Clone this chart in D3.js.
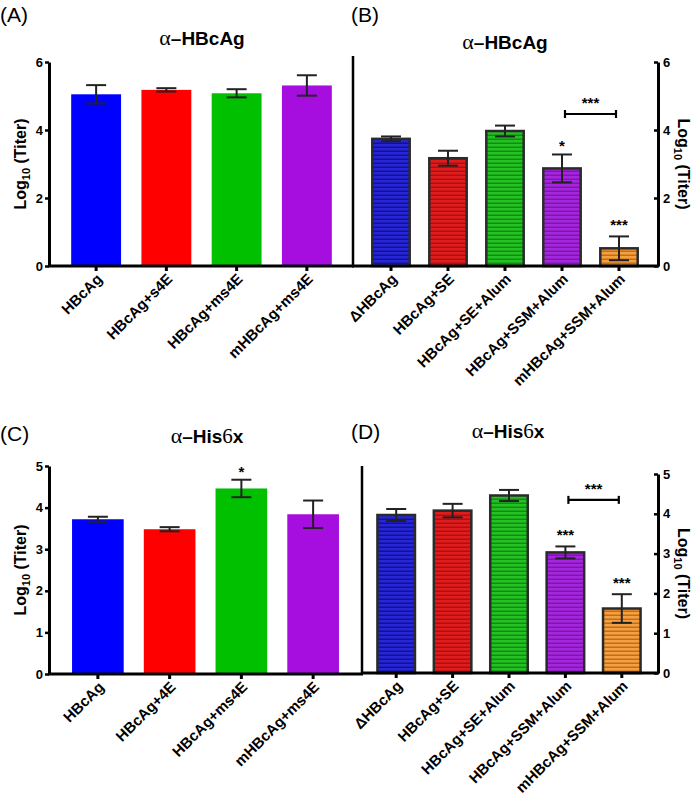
<!DOCTYPE html>
<html><head><meta charset="utf-8">
<script src="https://cdn.jsdelivr.net/npm/d3@7"></script>
<style>body{margin:0;background:#fff}svg{display:block}</style>
</head><body>
<svg id="c" width="692" height="796"></svg>
<script>
// ---------- data ----------
const catsA = ["HBcAg","HBcAg+s4E","HBcAg+ms4E","mHBcAg+ms4E"];
const valsA = [5.05, 5.18, 5.08, 5.31];
const errA  = [0.27, 0.05, 0.12, 0.30];
const sigA  = ["", "", "", ""];

const catsB = ["ΔHBcAg","HBcAg+SE","HBcAg+SE+Alum","HBcAg+SSM+Alum","mHBcAg+SSM+Alum"];
const valsB = [3.74, 3.17, 3.97, 2.87, 0.52];
const errB  = [0.07, 0.22, 0.16, 0.41, 0.35];
const sigB  = ["", "", "", "*", "***"];
const bracketB = [3, 4, 4.47];

const catsC = ["HBcAg","HBcAg+4E","HBcAg+ms4E","mHBcAg+ms4E"];
const valsC = [3.72, 3.48, 4.46, 3.84];
const errC  = [0.06, 0.05, 0.21, 0.33];
const sigC  = ["", "", "*", ""];

const catsD = ["ΔHBcAg","HBcAg+SE","HBcAg+SE+Alum","HBcAg+SSM+Alum","mHBcAg+SSM+Alum"];
const valsD = [3.97, 4.08, 4.46, 3.03, 1.62];
const errD  = [0.15, 0.17, 0.14, 0.15, 0.36];
const sigD  = ["", "", "", "***", "***"];
const bracketD = [3, 4, 4.35];

const ticksAB = [0, 2, 4, 6];
const ticksCD = [0, 1, 2, 3, 4, 5];
const titles = ["HBcAg", "HBcAg", "His", "His"];
const panelLabels = ["(A)", "(B)", "(C)", "(D)"];

// ---------- styles ----------
const solidColors = ["#0000ff", "#ff0000", "#00c000", "#a60ee0"];
const stripeLight = ["#2626d8", "#e21c1c", "#22c222", "#a626e0", "#f2a040"];
const stripeDark  = ["#12128c", "#a81212", "#168a16", "#7a18a8", "#c46c18"];
const FONT = "'Liberation Sans', Arial, Helvetica, sans-serif";
const SERIF = "'Liberation Serif', 'Times New Roman', serif";
const INK = "#000";
const ERR = "#222";

const svg = d3.select("#c");
const defs = svg.append("defs");
stripeLight.forEach((c, i) => {
  const p = defs.append("pattern").attr("id", "st" + i)
    .attr("patternUnits", "userSpaceOnUse").attr("width", 4).attr("height", 4);
  p.append("rect").attr("width", 4).attr("height", 4).attr("fill", c);
  p.append("rect").attr("y", 2.5).attr("width", 4).attr("height", 1.5).attr("fill", stripeDark[i]);
});

function yLabel(g, x, y, rot) {
  const t = g.append("text").attr("transform", `translate(${x},${y}) rotate(${rot})`)
    .attr("text-anchor", "middle").attr("font-family", FONT).attr("font-weight", "bold")
    .attr("font-size", 16).attr("fill", INK);
  t.append("tspan").text("Log");
  t.append("tspan").attr("font-size", 11).attr("dy", 4).text("10");
  t.append("tspan").attr("dy", -4).text(" (Titer)");
}

function title(g, cx, by, word) {
  const t = g.append("text").attr("x", cx).attr("y", by).attr("text-anchor", "middle")
    .attr("font-family", FONT).attr("font-weight", "bold").attr("font-size", 19).attr("fill", INK);
  t.append("tspan").attr("font-family", SERIF).attr("font-weight", "normal").attr("font-size", 22).text("α");
  t.append("tspan").text("–" + word);
  if (word === "His") {
    t.append("tspan").attr("font-family", SERIF).attr("font-weight", "normal").attr("font-size", 21).text("6");
    t.append("tspan").text("x");
  }
}

function panel(cfg) {
  const g = svg.append("g");
  const x = d3.scalePoint().domain(cfg.cats).range([cfg.x0, cfg.x1]).padding(0.5);
  const y = d3.scaleLinear().domain([0, cfg.ticks[cfg.ticks.length - 1]]).range([cfg.yBot, cfg.yTop]);
  const step = x.step();
  const bw = step * cfg.bwFrac;

  // bars
  cfg.vals.forEach((v, i) => {
    const cx = x(cfg.cats[i]);
    if (cfg.striped) {
      g.append("rect").attr("x", cx - bw / 2 + 1.25).attr("y", y(v))
        .attr("width", bw - 2.5).attr("height", y(0) - y(v))
        .attr("fill", `url(#st${i})`).attr("stroke", "#2a2a2a").attr("stroke-width", 2.5);
    } else {
      g.append("rect").attr("x", cx - bw / 2).attr("y", y(v))
        .attr("width", bw).attr("height", y(0) - y(v)).attr("fill", solidColors[i]);
    }
  });
  // error bars
  cfg.vals.forEach((v, i) => {
    const cx = x(cfg.cats[i]), e = cfg.errs[i], cw = 10;
    g.append("line").attr("x1", cx).attr("x2", cx).attr("y1", y(v + e)).attr("y2", y(v - e))
      .attr("stroke", ERR).attr("stroke-width", 2);
    [v + e, v - e].forEach(yy => g.append("line").attr("x1", cx - cw).attr("x2", cx + cw)
      .attr("y1", y(yy)).attr("y2", y(yy)).attr("stroke", ERR).attr("stroke-width", 2));
    if (cfg.sig[i]) {
      g.append("text").attr("x", cx).attr("y", y(v + e) - (cfg.sig[i] === "*" ? 3 : 6))
        .attr("text-anchor", "middle").attr("font-family", FONT).attr("font-weight", "bold")
        .attr("font-size", 15).attr("fill", INK).text(cfg.sig[i]);
    }
  });
  // bracket
  if (cfg.bracket) {
    const [a, b, lv] = cfg.bracket;
    const xa = x(cfg.cats[a]) + 3, xb = x(cfg.cats[b]) - 3, yy = y(lv);
    g.append("line").attr("x1", xa).attr("x2", xb).attr("y1", yy).attr("y2", yy)
      .attr("stroke", INK).attr("stroke-width", 2.2);
    [xa, xb].forEach(xx => g.append("line").attr("x1", xx).attr("x2", xx)
      .attr("y1", yy - 4).attr("y2", yy + 4).attr("stroke", INK).attr("stroke-width", 2.2));
    g.append("text").attr("x", (xa + xb) / 2).attr("y", yy - 6).attr("text-anchor", "middle")
      .attr("font-family", FONT).attr("font-weight", "bold").attr("font-size", 15)
      .attr("fill", INK).text("***");
  }
  // x axis
  g.append("line").attr("x1", cfg.axL).attr("x2", cfg.axR).attr("y1", y(0)).attr("y2", y(0))
    .attr("stroke", INK).attr("stroke-width", 3);
  cfg.cats.forEach(c => {
    const cx = x(c);
    g.append("line").attr("x1", cx).attr("x2", cx).attr("y1", y(0)).attr("y2", y(0) + 5)
      .attr("stroke", INK).attr("stroke-width", 3);
    g.append("text").attr("transform", `translate(${cx + 7},${y(0) + 14}) rotate(-45)`)
      .attr("text-anchor", "end").attr("font-family", FONT).attr("font-weight", "bold")
      .attr("font-size", 15).attr("fill", INK).text(c);
  });
  // y axis
  const ax = cfg.right
    ? d3.axisRight(y).tickValues(cfg.ticks).tickSize(-4).tickSizeOuter(0).tickPadding(5).tickFormat(d3.format("d"))
    : d3.axisLeft(y).tickValues(cfg.ticks).tickSize(4).tickSizeOuter(0).tickPadding(2).tickFormat(d3.format("d"));
  const ag = g.append("g").attr("transform", `translate(${cfg.axisX},0)`).call(ax);
  ag.select(".domain").attr("stroke", INK).attr("stroke-width", 3);
  ag.selectAll(".tick line").attr("stroke", INK).attr("stroke-width", 2.5);
  ag.selectAll(".tick text").attr("font-family", FONT).attr("font-weight", "bold")
    .attr("font-size", 13).attr("fill", INK);
  if (cfg.right) {
    g.append("line").attr("x1", cfg.leftLine).attr("x2", cfg.leftLine)
      .attr("y1", cfg.leftLineTop).attr("y2", y(0)).attr("stroke", INK).attr("stroke-width", 2.5);
    yLabel(g, cfg.axisX + 20, (cfg.yTop + cfg.yBot) / 2, 90);
  } else {
    yLabel(g, cfg.axisX - 23, (cfg.yTop + cfg.yBot) / 2, -90);
  }
  title(g, cfg.titleX, cfg.titleY, cfg.title);
  g.append("text").attr("x", cfg.plX).attr("y", cfg.plY).attr("font-family", FONT)
    .attr("font-size", 21).attr("fill", INK).text(cfg.pl);
}

panel({cats: catsA, vals: valsA, errs: errA, sig: sigA, ticks: ticksAB, striped: false,
  x0: 61, x1: 342, yTop: 62, yBot: 266, bwFrac: 0.71, axisX: 49, axL: 48, axR: 354,
  title: titles[0], titleX: 202, titleY: 45, pl: panelLabels[0], plX: 0, plY: 22});
panel({cats: catsB, vals: valsB, errs: errB, sig: sigB, ticks: ticksAB, striped: true, bracket: bracketB,
  x0: 362.5, x1: 647.5, yTop: 62, yBot: 266, bwFrac: 0.70, axisX: 658, axL: 352, axR: 659, right: true,
  leftLine: 353, leftLineTop: 56,
  title: titles[1], titleX: 505, titleY: 49, pl: panelLabels[1], plX: 351, plY: 22});
panel({cats: catsC, vals: valsC, errs: errC, sig: sigC, ticks: ticksCD, striped: false,
  x0: 62, x1: 349, yTop: 466, yBot: 674, bwFrac: 0.72, axisX: 49, axL: 48, axR: 363,
  title: titles[2], titleX: 207, titleY: 443, pl: panelLabels[2], plX: 0, plY: 441});
panel({cats: catsD, vals: valsD, errs: errD, sig: sigD, ticks: ticksCD, striped: true, bracket: bracketD,
  x0: 368, x1: 650, yTop: 474, yBot: 673, bwFrac: 0.71, axisX: 658, axL: 361, axR: 659, right: true,
  leftLine: 362, leftLineTop: 466,
  title: titles[3], titleX: 508, titleY: 438, pl: panelLabels[3], plX: 351, plY: 439});
</script>
</body></html>
